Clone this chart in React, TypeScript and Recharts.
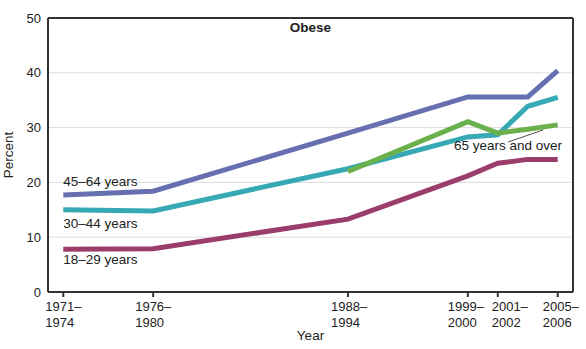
import {
  LineChart,
  Line,
  XAxis,
  YAxis,
  CartesianGrid,
  ReferenceLine,
  ReferenceDot,
} from 'recharts';

// survey periods, plotted at a representative year
const periods = ['1971–1974', '1976–1980', '1988–1994', '1999–2000', '2001–2002', '2003–2004', '2005–2006'];
const yearPos = [1972.5, 1978.5, 1991.5, 1999.5, 2001.5, 2003.5, 2005.5];
const tickPeriods = ['1971–1974', '1976–1980', '1988–1994', '1999–2000', '2001–2002', '2005–2006'];

const age18to29 = [7.8, 7.9, 13.3, 21.2, 23.5, 24.2, 24.2];
const age30to44 = [15.0, 14.8, 22.5, 28.3, 28.7, 33.9, 35.5];
const age45to64 = [17.7, 18.4, 29.0, 35.6, 35.6, 35.6, 40.4];
const age65over = [null, null, 22.0, 31.1, 29.0, 29.7, 30.5];

const yTicks = [0, 10, 20, 30, 40, 50];

const data = periods.map((p, i) => ({
  period: p,
  year: yearPos[i],
  a18: age18to29[i],
  a30: age30to44[i],
  a45: age45to64[i],
  a65: age65over[i],
}));

const xTicks = tickPeriods.map((p) => yearPos[periods.indexOf(p)]);

// crowded labels on the right are nudged apart, like the original
const tickShift: Record<string, number> = {
  '1971–1974': -18,
  '1976–1980': -18,
  '1988–1994': -17,
  '1999–2000': -20,
  '2001–2002': -6,
  '2005–2006': -15,
};

const FONT = '"Liberation Sans", Arial, sans-serif';
const AXIS = '#333';
const X_MIN = 1971.48;
const X_MAX = 2006.52;

function XTick({ x, y, payload }: any) {
  const label = periods[yearPos.indexOf(payload.value)] || '';
  const [a, b] = label.split('–');
  const lx = x + (tickShift[label] ?? -18);
  return (
    <text x={lx} y={y} fontSize={13} fill="#222" fontFamily={FONT}>
      <tspan x={lx} dy={12}>{a}–</tspan>
      <tspan x={lx} dy={15.5}>{b}</tspan>
    </text>
  );
}

function Note({ viewBox, text, bold, anchor }: any) {
  return (
    <text
      x={viewBox.x}
      y={viewBox.y}
      dy={4.5}
      textAnchor={anchor || 'start'}
      fontSize={13.5}
      fontWeight={bold ? 'bold' : 'normal'}
      fill="#222"
      fontFamily={FONT}
    >
      {text}
    </text>
  );
}

export default function App() {
  return (
    <div style={{ position: 'absolute', left: 0, top: 0, width: 586, height: 349, background: '#fff' }}>
      <LineChart
        width={586}
        height={349}
        data={data}
        margin={{ top: 18, right: 13, left: 0, bottom: 0 }}
        style={{ fontFamily: FONT }}
      >
        <CartesianGrid horizontal vertical={false} stroke="#dcdcdc" strokeWidth={1} />
        <XAxis
          dataKey="year"
          type="number"
          domain={[X_MIN, X_MAX]}
          ticks={xTicks}
          interval={0}
          allowDataOverflow
          height={57}
          tick={<XTick />}
          tickSize={5}
          tickLine={{ stroke: AXIS, strokeWidth: 2 }}
          axisLine={{ stroke: AXIS, strokeWidth: 2 }}
          label={{ value: 'Year', position: 'insideBottom', offset: 9, fontSize: 13.5, fill: '#222' }}
        />
        <YAxis
          domain={[0, 50]}
          ticks={yTicks}
          width={48}
          tickSize={0}
          tickMargin={7}
          tickLine={false}
          axisLine={{ stroke: AXIS, strokeWidth: 2 }}
          tick={{ fontSize: 13, fill: '#222' }}
          label={({ viewBox }: any) => (
            <text
              x={13}
              y={viewBox.y + viewBox.height / 2}
              transform={`rotate(-90 13 ${viewBox.y + viewBox.height / 2})`}
              textAnchor="middle"
              fontSize={13.5}
              fill="#222"
              fontFamily={FONT}
            >
              Percent
            </text>
          )}
        />
        <ReferenceLine y={50} stroke={AXIS} strokeWidth={2} />
        <ReferenceLine x={X_MAX} stroke={AXIS} strokeWidth={2} />

        <Line dataKey="a18" stroke="#9a3d6a" strokeWidth={5} dot={false} isAnimationActive={false} />
        <Line dataKey="a45" stroke="#6670b0" strokeWidth={5} dot={false} isAnimationActive={false} />
        <Line dataKey="a30" stroke="#36a9b4" strokeWidth={5} dot={false} isAnimationActive={false} />
        <Line dataKey="a65" stroke="#6ab04c" strokeWidth={5} dot={false} isAnimationActive={false} />

        <ReferenceLine
          segment={[{ x: 2002.19, y: 27.37 }, { x: 2004.52, y: 29.56 }]}
          stroke="#222"
          strokeWidth={0.8}
        />
        <ReferenceDot x={1989} y={48.2} r={0} label={<Note text="Obese" bold anchor="middle" />} />
        <ReferenceDot x={1972.5} y={20.25} r={0} label={<Note text="45–64 years" />} />
        <ReferenceDot x={1972.5} y={12.5} r={0} label={<Note text="30–44 years" />} />
        <ReferenceDot x={1972.5} y={5.84} r={0} label={<Note text="18–29 years" />} />
        <ReferenceDot x={1998.58} y={26.8} r={0} label={<Note text="65 years and over" />} />
      </LineChart>
    </div>
  );
}
